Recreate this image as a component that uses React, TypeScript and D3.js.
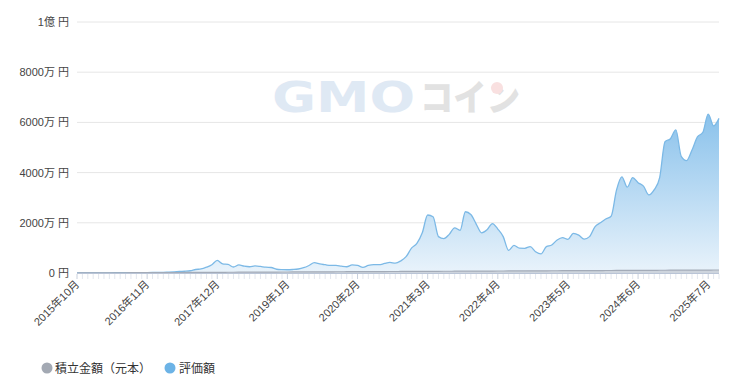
import React from "react";
import * as d3 from "d3";

// Months: 2015-10 .. 2025-09 (120 monthly points)
const startMonth = new Date(2015, 9, 1);
const endMonth = new Date(2025, 9, 1);
const months: Date[] = d3.timeMonth.range(startMonth, endMonth);

// 積立金額（元本） in 万円
const principal: number[] = [
  1, 2, 3, 4, 5, 6, 7, 8, 9, 10, 11, 12, 13, 14, 15, 16, 17, 18, 19, 20,
  21, 22, 23, 24, 25, 26, 27, 28, 29, 30, 31, 32, 33, 34, 35, 36, 37, 38, 39, 40,
  41, 42, 43, 44, 45, 46, 47, 48, 49, 50, 51, 52, 53, 54, 55, 56, 57, 58, 59, 60,
  61, 62, 63, 64, 65, 66, 67, 68, 69, 70, 71, 72, 73, 74, 75, 76, 77, 78, 79, 80,
  81, 82, 83, 84, 85, 86, 87, 88, 89, 90, 91, 92, 93, 94, 95, 96, 97, 98, 99, 100,
  101, 102, 103, 104, 105, 106, 107, 108, 109, 110, 111, 112, 113, 114, 115, 116, 117, 118, 119, 120,
];

// 評価額 in 万円
const valuation: number[] = [
  1, 2, 3, 4, 5.5, 6.5, 7.5, 9, 12, 14, 14, 15, 16, 18, 20, 23, 28, 35, 45, 60,
  70, 90, 140, 160, 230, 330, 500, 360, 340, 240, 320, 270, 250, 280, 260, 230, 220, 150, 135, 130,
  140, 160, 210, 300, 410, 360, 330, 300, 300, 270, 250, 320, 300, 225, 300, 330, 330, 380, 420, 390,
  480, 650, 990, 1180, 1600, 2310, 2240, 1450, 1370, 1540, 1800, 1700, 2440, 2330, 1950, 1600, 1720, 1970, 1750, 1450,
  900, 1100, 990, 985, 1050, 850, 760, 1050, 1115, 1315, 1410, 1340, 1580, 1510, 1350, 1450, 1840, 2000, 2150, 2260,
  3300, 3830, 3420, 3800, 3600, 3460, 3110, 3320, 3800, 5230, 5350, 5700, 4650, 4480, 4900, 5420, 5600, 6330, 5860, 6160,
];

const yTicks: number[] = [0, 2000, 4000, 6000, 8000, 10000];
const yTickLabels: string[] = ["0 円", "2000万 円", "4000万 円", "6000万 円", "8000万 円", "1億 円"];
const labelEvery = 13;

const seriesNames: string[] = ["積立金額（元本）", "評価額"];
const seriesColors: string[] = ["#a3a9b3", "#6cb3e6"];

const W = 735;
const H = 391;
const left = 77;
const right = 719;
const top = 22;
const bottom = 273;

const FONT = "'Liberation Sans', 'Noto Sans CJK JP', Arial, sans-serif";

export default function App() {
  const x = d3.scaleLinear().domain([0, months.length - 1]).range([left, right]);
  const y = d3.scaleLinear().domain([0, 10000]).range([bottom, top]);

  const area = d3
    .area<number>()
    .x((_, i) => x(i))
    .y0(y(0))
    .y1((d) => y(d))
    .curve(d3.curveMonotoneX);
  const line = d3
    .line<number>()
    .x((_, i) => x(i))
    .y((d) => y(d))
    .curve(d3.curveMonotoneX);

  const fmt = (d: Date) => `${d.getFullYear()}年${d.getMonth() + 1}月`;

  return (
    <svg
      width={W}
      height={H}
      style={{ position: "absolute", left: 0, top: 0, background: "#fff" }}
      fontFamily={FONT}
    >
      <defs>
        <linearGradient id="valGrad" gradientUnits="userSpaceOnUse" x1="0" y1={top + 70} x2="0" y2={bottom}>
          <stop offset="0%" stopColor="#7dbbe9" stopOpacity={1} />
          <stop offset="100%" stopColor="#e9f3fb" stopOpacity={1} />
        </linearGradient>
      </defs>

      {/* grid */}
      {yTicks.map((t) => (
        <line key={t} x1={left} x2={right} y1={y(t)} y2={y(t)} stroke="#e6e6e6" strokeWidth={1} />
      ))}

      {/* watermark */}
      <g>
        <text x={272} y={112} fontSize={42} fontWeight={900} fill="#dfe9f4" textLength={143} lengthAdjust="spacingAndGlyphs" fontFamily="'DejaVu Sans', sans-serif">
          GMO
        </text>
        <text x={420} y={111} fontSize={36} fontWeight={900} fill="#e2e2e2" textLength={100} lengthAdjust="spacingAndGlyphs" fontFamily="'Noto Sans CJK JP', sans-serif">
          コイン
        </text>
        <circle cx={497} cy={88} r={6} fill="#f9e0e0" />
      </g>

      {/* y labels */}
      {yTicks.map((t, i) => (
        <text key={t} x={69} y={y(t) + 4} textAnchor="end" fontSize={11} fill="#444">
          {yTickLabels[i]}
        </text>
      ))}

      {/* valuation area */}
      <path d={area(valuation) || ""} fill="url(#valGrad)" />
      <path d={line(valuation) || ""} fill="none" stroke="#7cb9e6" strokeWidth={1.3} />

      {/* principal area */}
      <path d={area(principal) || ""} fill="#c5ccd6" fillOpacity={0.8} />
      <path d={line(principal) || ""} fill="none" stroke="#a3abb8" strokeWidth={1.2} />

      {/* x axis */}
      <line x1={left} x2={right} y1={bottom + 0.5} y2={bottom + 0.5} stroke="#b9c4d6" strokeWidth={1} />
      {months.map((m, i) => (
        <line
          key={i}
          x1={x(i)}
          x2={x(i)}
          y1={bottom + 1}
          y2={bottom + 6}
          stroke={i % labelEvery === 0 ? "#c8d0dd" : "#e3e7ee"}
          strokeWidth={1}
        />
      ))}
      {months.map((m, i) =>
        i % labelEvery === 0 ? (
          <text
            key={"l" + i}
            transform={`translate(${x(i) + 3},${bottom + 12}) rotate(-45)`}
            textAnchor="end"
            fontSize={11}
            fill="#444"
          >
            {fmt(m)}
          </text>
        ) : null
      )}

      {/* legend */}
      <circle cx={47} cy={368} r={5.5} fill={seriesColors[0]} />
      <text x={55} y={372.5} fontSize={12} fill="#333" fontFamily="'Noto Sans CJK JP', sans-serif">
        {seriesNames[0]}
      </text>
      <circle cx={170} cy={368} r={5.5} fill={seriesColors[1]} />
      <text x={179} y={372.5} fontSize={12} fill="#333" fontFamily="'Noto Sans CJK JP', sans-serif">
        {seriesNames[1]}
      </text>
    </svg>
  );
}
